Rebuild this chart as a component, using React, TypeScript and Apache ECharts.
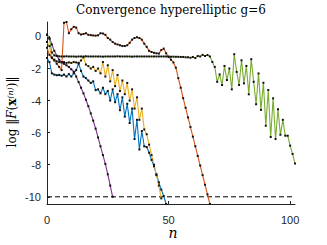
import React, { useEffect, useRef } from "react";
import * as echarts from "echarts";

const titleText = "Convergence hyperelliptic g=6";
const xTickValues = [0, 50, 100];
const yTickValues = [0, -2, -4, -6, -8, -10];
const tolerance = -10;

const blueVals = [
  -1.35, -1.6, -2.3, -2.38, -2.42, -2.4, -2.45, -2.38, -2.5, -2.35,
  -2.5, -2.3, -2.1, -1.7, -2.15, -2.5, -2.6, -2.75, -2.9, -2.8,
  -3.35, -3.3, -3.55, -3.2, -3.6, -3.4, -4.0, -3.3, -4.1, -3.6,
  -4.6, -3.8, -5.0, -4.2, -5.4, -4.5, -6.4, -5.2, -7.05, -5.9,
  -6.85, -6.9, -7.25, -7.7, -8.1, -8.6, -9.1, -9.55, -9.95, -10.45,
];

const orangeVals = [
  -0.7, -1.15, -1.35, -1.5, -1.7, -1.9, -2.1, 0.85, 0.9, 0.2,
  0.45, 0.6, 0.55, 0.2, 0.12, 0.15, 0.2, 0.1, 0.08, 0.06,
  0.05, 0.07, 0.2, 0.18, 0.1, -0.1, -0.2, -0.35, -0.45, -0.5,
  -0.55, -0.6, -0.6, -0.55, -0.4, -0.2, -0.1, -0.05, -0.1, -0.2,
  -0.45, -0.65, -0.9, -0.97, -1.02, -1.05, -1.07, -0.85, -0.76, -1.05,
  -1.28, -1.45, -1.62, -1.95, -2.6, -3.2, -3.85, -4.45, -5.05, -5.65,
  -6.25, -6.85, -7.45, -8.05, -8.65, -9.25, -9.85, -10.45,
];

const yellowVals = [
  -0.35, -0.6, -1.3, -1.45, -1.55, -1.6, -1.62, -1.6, -1.65, -1.62,
  -1.65, -1.6, -1.62, -1.65, -1.5, -1.3, -1.75, -1.85, -2.0, -1.9,
  -2.15, -2.0, -2.3, -1.6, -2.5, -1.8, -2.8, -2.1, -3.1, -2.4,
  -3.4, -2.75, -3.6, -2.9, -4.0, -3.3, -4.5, -3.8, -5.2, -4.5,
  -5.8, -6.1, -6.75, -7.4, -8.0, -8.65, -9.3, -10.1,
];

const purpleVals = [
  0.1, -0.1, -0.5, -0.9, -1.2, -1.45, -1.6, -1.7, -1.8, -1.9,
  -2.05, -2.2, -2.5, -2.85, -3.2, -3.55, -3.95, -4.35, -4.8, -5.25,
  -5.75, -6.3, -6.85, -7.4, -7.95, -8.6, -9.3, -10.0,
];

const greenVals = [
  0.1, -0.15, -1.0, -1.18, -1.22, -1.24, -1.25, -1.25, -1.24, -1.25,
  -1.25, -1.25, -1.26, -1.25, -1.25, -1.25, -1.24, -1.25, -1.25, -1.25,
  -1.25, -1.25, -1.25, -1.26, -1.25, -1.25, -1.25, -1.25, -1.25, -1.24,
  -1.25, -1.25, -1.25, -1.25, -1.25, -1.26, -1.25, -1.25, -1.25, -1.25,
  -1.25, -1.25, -1.25, -1.25, -1.25, -1.25, -1.25, -1.25, -1.25, -1.25,
  -1.25, -1.26, -1.26, -1.27, -1.27, -1.28, -1.28, -1.3, -1.3, -1.33,
  -1.28, -1.35, -1.22, -1.25, -1.15, -1.22, -1.16, -1.25, -1.59, -1.9,
  -2.83, -2.37, -3.03, -1.84, -2.72, -2.0, -3.3, -1.11, -2.21, -3.03,
  -1.49, -2.93, -1.84, -3.61, -1.42, -2.83, -4.23, -2.31, -4.58, -2.89,
  -5.57, -3.34, -6.27, -3.86, -6.4, -4.54, -6.13, -5.2, -6.19, -6.19,
  -6.81, -7.33, -7.93,
];

const seriesDefs = [
  { name: "s1", color: "#0072BD", values: blueVals },
  { name: "s2", color: "#D95319", values: orangeVals },
  { name: "s3", color: "#EDB120", values: yellowVals },
  { name: "s4", color: "#7E2F8E", values: purpleVals },
  { name: "s5", color: "#77AC30", values: greenVals },
];

const X_MAX = 102;
const Y_MIN = -10.45;
const Y_MAX = 0.9;

const axisColor = "#262626";

export default function App() {
  const ref = useRef<HTMLDivElement>(null);

  useEffect(() => {
    if (!ref.current) return;
    const chart = echarts.init(ref.current, undefined, { renderer: "svg" });

    const lineSeries = seriesDefs.map((s) => ({
      name: s.name,
      type: "line",
      data: s.values.map((v, i) => [i, v]),
      showSymbol: true,
      symbol: "rect",
      symbolSize: 2,
      itemStyle: { color: "#111111" },
      lineStyle: { color: s.color, width: 1.1 },
      silent: true,
      z: 2,
    }));

    const tolSeries = {
      name: "tol",
      type: "line",
      data: [
        [0, tolerance],
        [X_MAX, tolerance],
      ],
      showSymbol: false,
      symbol: "none",
      lineStyle: { color: "#000000", width: 1, type: [5, 3] },
      silent: true,
      z: 1,
    };

    chart.setOption({
      animation: false,
      grid: { left: 47, right: 32, top: 22, bottom: 41, containLabel: false },
      xAxis: {
        type: "value",
        min: 0,
        max: X_MAX,
        splitNumber: 2,
        splitLine: { show: false },
        axisLine: { show: true, onZero: false, lineStyle: { color: axisColor, width: 1 } },
        axisTick: { show: true, inside: true, length: 3, lineStyle: { color: axisColor } },
        axisLabel: {
          color: axisColor,
          fontFamily: "Liberation Sans",
          fontSize: 11,
          margin: 10,
          showMaxLabel: false,
          formatter: (v: number) => (xTickValues.includes(v) ? String(v) : ""),
        },
      },
      yAxis: {
        type: "value",
        min: Y_MIN,
        max: Y_MAX,
        splitNumber: 5,
        splitLine: { show: false },
        axisLine: { show: true, onZero: false, lineStyle: { color: axisColor, width: 1 } },
        axisTick: { show: true, inside: true, length: 3, lineStyle: { color: axisColor } },
        axisLabel: {
          color: axisColor,
          fontFamily: "Liberation Sans",
          fontSize: 11,
          margin: 6,
          showMinLabel: false,
          showMaxLabel: false,
          formatter: (v: number) => (yTickValues.includes(v) ? String(v) : ""),
        },
      },
      graphic: [
        {
          type: "text",
          x: 171,
          y: 10,
          style: {
            text: titleText,
            fill: "#000",
            font: '12px "DejaVu Serif"',
            textAlign: "center",
            textVerticalAlign: "middle",
          },
        },
        {
          type: "text",
          x: 173,
          y: 233,
          style: {
            text: "n",
            fill: "#000",
            font: 'italic 14px "DejaVu Serif"',
            textAlign: "center",
            textVerticalAlign: "middle",
          },
        },
        {
          type: "text",
          x: 12,
          y: 112,
          rotation: Math.PI / 2,
          style: {
            text: "{a|log ‖}{b|F}{a|(}{c|x}{d|(n)}{a|)‖}",
            fill: "#000",
            textAlign: "center",
            textVerticalAlign: "middle",
            rich: {
              a: { fontFamily: "DejaVu Serif", fontSize: 12, fill: "#000" },
              b: { fontFamily: "DejaVu Serif", fontStyle: "italic", fontSize: 12, fill: "#000" },
              c: { fontFamily: "DejaVu Serif", fontWeight: "bold", fontSize: 12, fill: "#000" },
              d: { fontFamily: "DejaVu Serif", fontStyle: "italic", fontSize: 8, fill: "#000", verticalAlign: "top" },
            },
          },
        },
      ],
      series: [tolSeries, ...lineSeries],
    });

    return () => chart.dispose();
  }, []);

  return <div ref={ref} style={{ width: 327, height: 245, position: "absolute", left: 0, top: 0 }} />;
}
